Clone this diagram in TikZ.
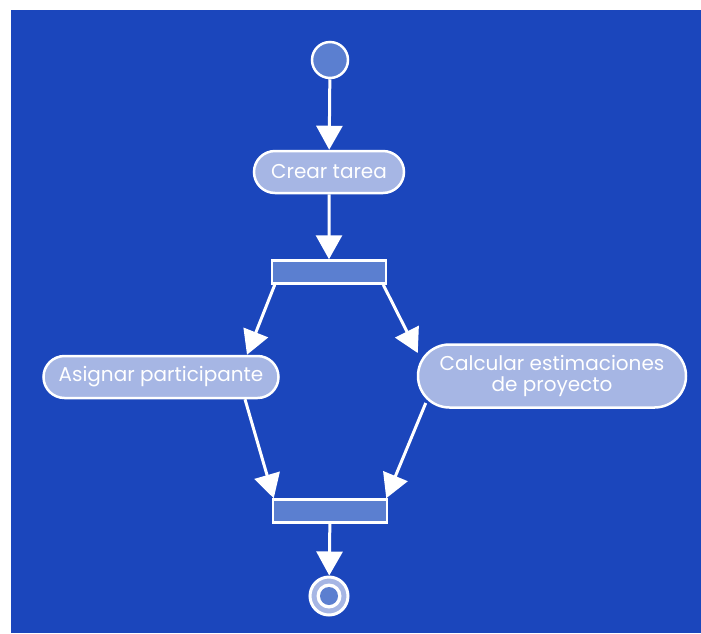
\documentclass[tikz,border=0pt]{standalone}
\usepackage{fontspec}
\setmainfont{Poppins}
\usepackage{tikz}
\usetikzlibrary{positioning,arrows.meta,shapes.misc}

\definecolor{fondo}{HTML}{1B46BC}
\definecolor{actividad}{HTML}{A6B6E4}
\definecolor{barra}{HTML}{5B7FD0}

\begin{document}
\begin{tikzpicture}[x=1pt, y=-1pt, >={Triangle[width=26pt,length=24pt]},
		every node/.style={text=white, font=\fontsize{20}{21}\selectfont},
		act/.style={rounded rectangle, draw=white, line width=2.5pt, fill=actividad, align=center, minimum height=42pt, inner sep=0pt},
		sync/.style={rectangle, draw=white, line width=2.5pt, fill=barra, minimum width=114pt, minimum height=23pt, inner sep=0pt},
		flow/.style={->, white, line width=3pt}]
		\useasboundingbox (0,0) rectangle (701,633);
		\fill[fondo] (11,10) rectangle (701,633);
		
		\node[circle, draw=white, line width=2.5pt, fill=barra, minimum size=36pt, inner sep=0pt] (inicio) at (330,60) {};
		\node[act, minimum width=150pt] (crear) at (329,172) {Crear tarea};
		\node[sync] (bifurca) at (329,272) {};
		\node[act, minimum width=235pt] (asignar) at (161,377) {Asignar participante};
		\node[act, minimum width=268pt, minimum height=63pt] (calcular) at (552,376) {Calcular estimaciones\\de proyecto};
		\node[sync] (une) at (330,511) {};
		\node[circle, draw=white, line width=3pt, fill=actividad, minimum size=38pt, inner sep=0pt] (fin) at (329,596) {};
		\fill[white] (fin) circle (12.5pt);
		\fill[barra] (fin) circle (9pt);
		
		\draw[flow] (inicio) -- (crear);
		\draw[flow] (crear) -- (bifurca);
		\draw[flow] ([xshift=4pt]bifurca.south west) -- ([xshift=86pt]asignar.north);
		\draw[flow] ([xshift=-4pt]bifurca.south east) -- ([xshift=1pt, yshift=23pt]calcular.west);
		\draw[flow] ([xshift=84pt]asignar.south) -- ([xshift=2pt]une.north west);
		\draw[flow] ([xshift=9pt, yshift=-27pt]calcular.west) -- ([xshift=-2pt]une.north east);
		\draw[flow] (une) -- (fin);
	\end{tikzpicture}
\end{document}
